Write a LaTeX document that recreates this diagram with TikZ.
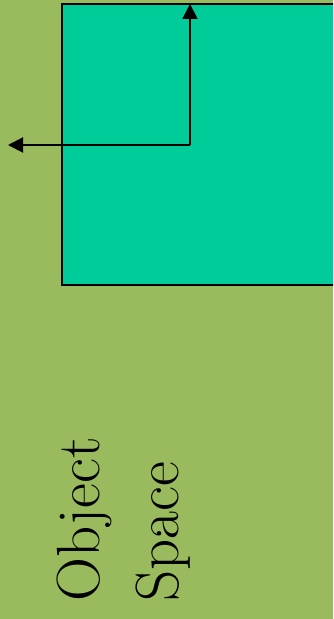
\documentclass[tikz,border=0pt]{standalone}
\usetikzlibrary{arrows.meta}
\definecolor{bgolive}{HTML}{99BB5E}
\definecolor{teal1}{HTML}{00CC99}
\tikzset{
  conn/.style={line width=2pt, -{Triangle[length=15pt,width=15pt]}},
  plane/.style={fill=teal1, draw=black, line width=2pt},
  label/.style={rotate=90, anchor=north west, inner sep=0pt, align=left,
    font=\fontsize{61}{79}\selectfont}
}
\begin{document}
\begin{tikzpicture}[x=1pt,y=1pt]
\useasboundingbox (0,0) rectangle (333,619);
\fill[bgolive] (0,0) rectangle (333,619);
\clip (0,0) rectangle (333,619);
\draw[plane] (62,334) rectangle (350,615);
\coordinate (corner) at (190,474);
\coordinate (uptip) at (190,615);
\coordinate (lefttip) at (8,474);
\draw[conn] (corner) -- (uptip);
\draw[conn] (corner) -- (lefttip);
\node[label] (txt) at (57,17) {Object\\Space};
\end{tikzpicture}
\end{document}
